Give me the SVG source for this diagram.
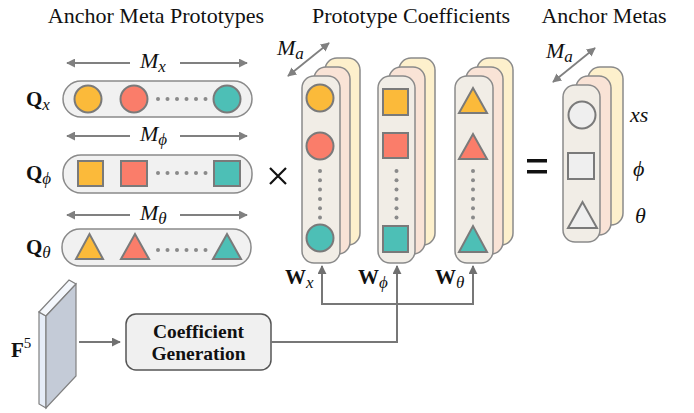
<svg xmlns="http://www.w3.org/2000/svg" width="694" height="413" viewBox="0 0 694 413">
<defs>
<marker id="ah" viewBox="0 0 10 10" refX="9" refY="5" markerWidth="5" markerHeight="5" orient="auto-start-reverse" markerUnits="strokeWidth"><path d="M0,0 L10,5 L0,10 z" fill="#808080"/></marker>
<marker id="ah2" viewBox="0 0 10 10" refX="9" refY="5" markerWidth="4.5" markerHeight="4.5" orient="auto-start-reverse" markerUnits="strokeWidth"><path d="M0,0 L10,5 L0,10 z" fill="#707070"/></marker>
</defs>
<style>
.title{font-family:"Liberation Serif",serif;font-size:22px;fill:#111}
.math{font-family:"Liberation Serif",serif;font-style:italic;font-size:22px;fill:#111}
.sub{font-family:"Liberation Serif",serif;font-style:italic;font-weight:normal;font-size:17px;fill:#111}
.bold{font-family:"Liberation Serif",serif;font-weight:bold;font-size:21px;fill:#111}
.btxt{font-family:"Liberation Serif",serif;font-weight:bold;font-size:19.5px;fill:#111}
.pill{fill:#f1f1f1;stroke:#8a8a8a;stroke-width:1.5}
.y{fill:#fbba3a;stroke:#7a7a7a;stroke-width:2}
.r{fill:#fa7d6a;stroke:#7a7a7a;stroke-width:2}
.t{fill:#4dbfb6;stroke:#7a7a7a;stroke-width:2}
.g{fill:#efefef;stroke:#7a7a7a;stroke-width:2}
.dot{fill:#8a8a8a}
.l1{fill:#f1ede6;stroke:#8a8a8a;stroke-width:1.5}
.l2{fill:#f9e3d6;stroke:#8a8a8a;stroke-width:1.5}
.l3{fill:#fdf0cc;stroke:#8a8a8a;stroke-width:1.5}
.dim{stroke:#808080;stroke-width:1.8;fill:none}
.con{stroke:#777;stroke-width:2;fill:none}
</style>

<text class="title" x="156" y="23" text-anchor="middle">Anchor Meta Prototypes</text>
<text class="title" x="411" y="23" text-anchor="middle">Prototype Coefficients</text>
<text class="title" x="604" y="23" text-anchor="middle">Anchor Metas</text>

<g id="Qx">
<line class="dim" x1="67" y1="63" x2="130" y2="63" marker-start="url(#ah)"/>
<line class="dim" x1="180" y1="63" x2="247" y2="63" marker-end="url(#ah)"/>
<text class="math" x="140" y="68">M<tspan class="sub" dy="4">x</tspan></text>
<text class="bold" x="26" y="106">Q<tspan class="sub" dy="4">x</tspan></text>
<rect class="pill" x="63" y="81" width="189" height="36" rx="18"/>
<circle class="y" cx="88" cy="99" r="13.5"/>
<circle class="r" cx="134" cy="99" r="13.5"/>
<circle class="t" cx="227" cy="99" r="13.5"/>
<g class="dot"><circle cx="158" cy="99" r="2"/><circle cx="167.5" cy="99" r="2"/><circle cx="177" cy="99" r="2"/><circle cx="186.5" cy="99" r="2"/><circle cx="196" cy="99" r="2"/><circle cx="205.5" cy="99" r="2"/></g>
</g>

<g id="Qphi">
<line class="dim" x1="67" y1="136" x2="130" y2="136" marker-start="url(#ah)"/>
<line class="dim" x1="180" y1="136" x2="247" y2="136" marker-end="url(#ah)"/>
<text class="math" x="140" y="141">M<tspan class="sub" dy="4">ϕ</tspan></text>
<text class="bold" x="26" y="180">Q<tspan class="sub" dy="4">ϕ</tspan></text>
<rect class="pill" x="63" y="155" width="189" height="38" rx="18"/>
<rect class="y" x="78" y="161" width="25" height="25"/>
<rect class="r" x="121" y="161" width="26" height="25"/>
<rect class="t" x="214" y="161" width="26" height="25"/>
<g class="dot"><circle cx="158" cy="173" r="2"/><circle cx="167.5" cy="173" r="2"/><circle cx="177" cy="173" r="2"/><circle cx="186.5" cy="173" r="2"/><circle cx="196" cy="173" r="2"/><circle cx="205.5" cy="173" r="2"/></g>
</g>

<g id="Qtheta">
<line class="dim" x1="67" y1="215" x2="130" y2="215" marker-start="url(#ah)"/>
<line class="dim" x1="180" y1="215" x2="247" y2="215" marker-end="url(#ah)"/>
<text class="math" x="140" y="220">M<tspan class="sub" dy="4">θ</tspan></text>
<text class="bold" x="26" y="254">Q<tspan class="sub" dy="4">θ</tspan></text>
<rect class="pill" x="62" y="229" width="189" height="37" rx="18"/>
<polygon class="y" points="76,259 89.5,234 103,259"/>
<polygon class="r" points="121,259 135,234 149,259"/>
<polygon class="t" points="213,259 227,234 241,259"/>
<g class="dot"><circle cx="158" cy="250" r="2"/><circle cx="167.5" cy="250" r="2"/><circle cx="177" cy="250" r="2"/><circle cx="186.5" cy="250" r="2"/><circle cx="196" cy="250" r="2"/><circle cx="205.5" cy="250" r="2"/></g>
</g>

<g id="times">
<path d="M270,168 L286,184 M286,168 L270,184" stroke="#111" stroke-width="2.2" fill="none"/>
</g>

<g id="Wx">
<line class="dim" x1="288" y1="76" x2="329" y2="43" marker-start="url(#ah)" marker-end="url(#ah)"/>
<text class="math" x="277" y="55">M<tspan class="sub" dy="4">a</tspan></text>
<rect class="l3" x="325" y="58" width="35" height="187" rx="12"/>
<rect class="l2" x="314" y="67" width="36" height="187" rx="12"/>
<rect class="l1" x="302" y="76" width="38" height="187" rx="12"/>
<circle class="y" cx="320" cy="98" r="13.5"/>
<circle class="r" cx="320" cy="146" r="13.5"/>
<circle class="t" cx="320" cy="238" r="13.5"/>
<g class="dot"><circle cx="320" cy="171" r="2"/><circle cx="320" cy="180.3" r="2"/><circle cx="320" cy="189.6" r="2"/><circle cx="320" cy="198.9" r="2"/><circle cx="320" cy="208.2" r="2"/><circle cx="320" cy="217.5" r="2"/></g>
<text class="bold" x="285" y="284">W<tspan class="sub" dy="4">x</tspan></text>
</g>

<g id="Wphi">
<rect class="l3" x="399" y="58" width="36" height="187" rx="12"/>
<rect class="l2" x="389" y="67" width="36" height="187" rx="12"/>
<rect class="l1" x="378" y="76" width="37" height="187" rx="12"/>
<rect class="y" x="383" y="89" width="25" height="26"/>
<rect class="r" x="383" y="133" width="25" height="25"/>
<rect class="t" x="383" y="226" width="25" height="26"/>
<g class="dot"><circle cx="396.5" cy="171" r="2"/><circle cx="396.5" cy="180.3" r="2"/><circle cx="396.5" cy="189.6" r="2"/><circle cx="396.5" cy="198.9" r="2"/><circle cx="396.5" cy="208.2" r="2"/><circle cx="396.5" cy="217.5" r="2"/></g>
<text class="bold" x="358" y="284">W<tspan class="sub" dy="4">ϕ</tspan></text>
</g>

<g id="Wtheta">
<rect class="l3" x="477" y="58" width="36" height="187" rx="12"/>
<rect class="l2" x="466" y="67" width="37" height="187" rx="12"/>
<rect class="l1" x="455" y="76" width="38" height="187" rx="12"/>
<polygon class="y" points="459,113 473,88 487,113"/>
<polygon class="r" points="459,159 473,134 487,159"/>
<polygon class="t" points="459,252 473,226 487,252"/>
<g class="dot"><circle cx="473" cy="171" r="2"/><circle cx="473" cy="180.3" r="2"/><circle cx="473" cy="189.6" r="2"/><circle cx="473" cy="198.9" r="2"/><circle cx="473" cy="208.2" r="2"/><circle cx="473" cy="217.5" r="2"/></g>
<text class="bold" x="435" y="284">W<tspan class="sub" dy="4">θ</tspan></text>
</g>

<g id="equals">
<rect x="527" y="159" width="20" height="3.5" fill="#111"/>
<rect x="527" y="170" width="20" height="3.5" fill="#111"/>
</g>

<g id="AnchorMetas">
<line class="dim" x1="553" y1="82" x2="595" y2="48" marker-start="url(#ah)" marker-end="url(#ah)"/>
<text class="math" x="546" y="58">M<tspan class="sub" dy="4">a</tspan></text>
<rect class="l3" x="588" y="67" width="35" height="158" rx="12"/>
<rect class="l2" x="576" y="76" width="35" height="159" rx="12"/>
<rect class="l1" x="563" y="85" width="37" height="157" rx="12"/>
<circle class="g" cx="582" cy="115" r="13.5"/>
<rect class="g" x="568" y="153" width="26" height="26"/>
<polygon class="g" points="568,228 582.5,202 597,228"/>
<text class="math" x="630" y="122">xs</text>
<text class="math" x="633" y="176">ϕ</text>
<text class="math" x="635" y="223">θ</text>
</g>

<g id="F5">
<polygon points="39,312 46,316 46,408 39,404" fill="#e6edf8" stroke="#808080" stroke-width="1.2"/>
<polygon points="39,312 69,280 76,284 46,316" fill="#f4f7fc" stroke="#808080" stroke-width="1.2"/>
<polygon points="46,316 76,284 76,376 46,408" fill="#c4cbd7" stroke="#808080" stroke-width="1.2"/>
<text class="bold" x="11" y="357">F<tspan font-size="15" font-weight="normal" dy="-9">5</tspan></text>
</g>

<g id="CoefGen">
<rect x="126" y="314" width="145" height="56" rx="10" fill="#f0f0f0" stroke="#555" stroke-width="1.5"/>
<text class="btxt" x="198.5" y="338" text-anchor="middle">Coefficient</text>
<text class="btxt" x="198.5" y="360" text-anchor="middle">Generation</text>
</g>

<g id="connectors">
<line class="con" x1="79" y1="342" x2="120" y2="342" marker-end="url(#ah2)"/>
<polyline class="con" points="271,342 397,342 397,271"/>
<polyline class="con" points="322,304 322,266" marker-end="url(#ah2)"/>
<polyline class="con" points="397,304 397,266" marker-end="url(#ah2)"/>
<polyline class="con" points="473,304 473,266" marker-end="url(#ah2)"/>
<line class="con" x1="321" y1="304" x2="474" y2="304"/>
</g>
</svg>
